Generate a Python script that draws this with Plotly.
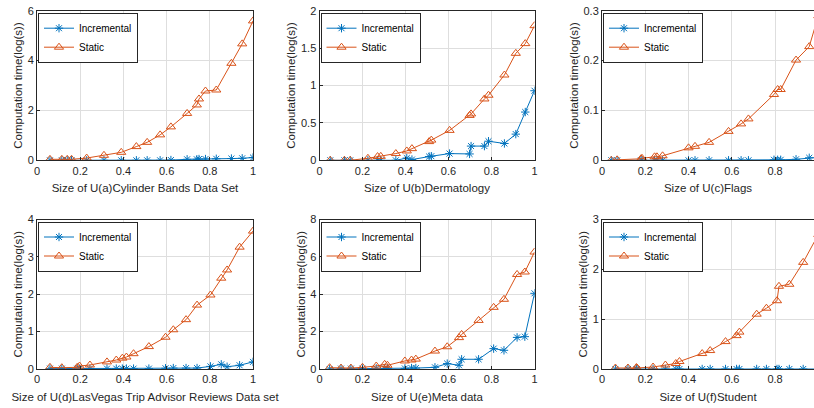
import plotly.graph_objects as go

# ---------------- data ----------------
titles = [
    "Size of U(a)Cylinder Bands Data Set",
    "Size of U(b)Dermatology",
    "Size of U(c)Flags",
    "Size of U(d)LasVegas Trip Advisor Reviews Data set",
    "Size of U(e)Meta data",
    "Size of U(f)Student",
]
y_label = "Computation time(log(s))"

x_a = [0.06, 0.115, 0.14, 0.16, 0.23, 0.31, 0.39, 0.46, 0.51, 0.57, 0.62, 0.695, 0.74, 0.75, 0.78, 0.83, 0.9, 0.95, 1.0]
inc_a = [0.0, 0.0, 0.0, 0.0, 0.0, 0.0, 0.0, 0.0, 0.0, 0.0, 0.01, 0.04, 0.04, 0.05, 0.05, 0.06, 0.07, 0.08, 0.11]
sta_a = [0.04, 0.04, 0.04, 0.04, 0.09, 0.2, 0.32, 0.55, 0.72, 1.02, 1.34, 1.88, 2.22, 2.46, 2.78, 2.82, 3.89, 4.67, 5.59]

x_b = [0.05, 0.116, 0.143, 0.225, 0.27, 0.285, 0.355, 0.406, 0.43, 0.51, 0.52, 0.605, 0.698, 0.705, 0.767, 0.786, 0.86, 0.913, 0.957, 1.0]
inc_b = [0.0, 0.0, 0.0, 0.0, 0.0, 0.0, 0.0, 0.03, 0.01, 0.05, 0.055, 0.09, 0.085, 0.19, 0.19, 0.255, 0.225, 0.35, 0.645, 0.93]
sta_b = [0.0, 0.0, 0.0, 0.027, 0.05, 0.053, 0.09, 0.125, 0.156, 0.25, 0.27, 0.40, 0.60, 0.62, 0.82, 0.87, 1.14, 1.43, 1.56, 1.80]

x_c = [0.043, 0.07, 0.18, 0.185, 0.243, 0.254, 0.28, 0.40, 0.43, 0.495, 0.585, 0.643, 0.677, 0.795, 0.812, 0.826, 0.897, 0.958, 1.0]
inc_c = [0.0, 0.0, 0.0, 0.0, 0.0, 0.0, 0.0, 0.0, 0.0, 0.0, 0.0, 0.0, 0.0, 0.001, 0.001, 0.001, 0.002, 0.005, 0.006]
sta_c = [0.0, 0.001, 0.003, 0.004, 0.007, 0.007, 0.009, 0.025, 0.028, 0.036, 0.058, 0.073, 0.083, 0.132, 0.142, 0.142, 0.201, 0.228, 0.29]

x_d = [0.06, 0.115, 0.186, 0.197, 0.245, 0.324, 0.367, 0.395, 0.414, 0.447, 0.518, 0.595, 0.631, 0.69, 0.741, 0.803, 0.853, 0.88, 0.938, 1.0]
inc_d = [0.01, 0.01, 0.01, 0.01, 0.01, 0.01, 0.01, 0.01, 0.01, 0.01, 0.01, 0.02, 0.025, 0.025, 0.025, 0.07, 0.125, 0.06, 0.1, 0.19]
sta_d = [0.045, 0.035, 0.045, 0.08, 0.107, 0.19, 0.24, 0.29, 0.32, 0.41, 0.60, 0.85, 1.05, 1.32, 1.71, 1.98, 2.43, 2.65, 3.26, 3.69]

x_e = [0.047, 0.1, 0.146, 0.2, 0.264, 0.303, 0.316, 0.397, 0.428, 0.448, 0.537, 0.594, 0.649, 0.661, 0.74, 0.81, 0.858, 0.919, 0.955, 1.0]
inc_e = [0.0, 0.02, 0.02, 0.02, 0.03, 0.03, 0.03, 0.03, 0.05, 0.05, 0.09, 0.29, 0.2, 0.52, 0.52, 1.09, 1.0, 1.69, 1.73, 4.05]
sta_e = [0.07, 0.05, 0.05, 0.09, 0.16, 0.25, 0.2, 0.43, 0.48, 0.53, 0.96, 1.19, 1.68, 1.85, 2.6, 3.3, 3.73, 5.06, 5.19, 6.26]

x_f = [0.062, 0.12, 0.159, 0.162, 0.236, 0.293, 0.341, 0.358, 0.463, 0.5, 0.571, 0.622, 0.635, 0.715, 0.76, 0.809, 0.818, 0.866, 0.93, 1.0]
inc_f = [0.0] * 20
sta_f = [0.02, 0.02, 0.03, 0.02, 0.04, 0.08, 0.11, 0.15, 0.31, 0.37, 0.55, 0.67, 0.74, 1.10, 1.22, 1.37, 1.66, 1.70, 2.14, 2.7]

xs = [x_a, x_b, x_c, x_d, x_e, x_f]
incs = [inc_a, inc_b, inc_c, inc_d, inc_e, inc_f]
stas = [sta_a, sta_b, sta_c, sta_d, sta_e, sta_f]

y_ranges = [[0, 6], [0, 2], [0, 0.3], [0, 4], [0, 8], [0, 3]]
y_dticks = [2, 0.5, 0.1, 1, 2, 1]
x_ranges = [[0, 1], [0, 1], [0, 0.98], [0, 1], [0, 1], [0, 0.98]]

# ---------------- layout geometry ----------------
W, H = 814, 408
col_px = [(37, 253), (319.5, 534.5), (602, 814)]
row_px = [(10.7, 160.3), (219.5, 369)]

BLUE = "#0072BD"
ORANGE = "#D95319"
AX = "#262626"
GRID = "#dedede"
FONT = "Liberation Sans, Arial, sans-serif"

fig = go.Figure()
layout = dict(
    width=W, height=H,
    margin=dict(l=0, r=0, t=0, b=0),
    paper_bgcolor="white", plot_bgcolor="white",
    font=dict(family=FONT, size=11, color=AX),
    showlegend=True,
)

for i in range(6):
    r, c = divmod(i, 3)
    n = i + 1
    xa = "x" if n == 1 else f"x{n}"
    ya = "y" if n == 1 else f"y{n}"
    lg = "legend" if n == 1 else f"legend{n}"
    fig.add_trace(go.Scatter(
        x=xs[i], y=incs[i], mode="lines+markers", name="Incremental",
        xaxis=xa, yaxis=ya, legend=lg, cliponaxis=True,
        line=dict(color=BLUE, width=1),
        marker=dict(symbol="asterisk-open", size=7, color=BLUE,
                    line=dict(color=BLUE, width=1)),
    ))
    fig.add_trace(go.Scatter(
        x=xs[i], y=stas[i], mode="lines+markers", name="Static",
        xaxis=xa, yaxis=ya, legend=lg, cliponaxis=True,
        line=dict(color=ORANGE, width=1),
        marker=dict(symbol="triangle-up-open", size=8, color=ORANGE,
                    line=dict(color=ORANGE, width=1)),
    ))
    x0, x1 = col_px[c]
    yt, yb = row_px[r]
    dom_x = [x0 / W, x1 / W]
    dom_y = [1 - yb / H, 1 - yt / H]
    xkey = "xaxis" if n == 1 else f"xaxis{n}"
    ykey = "yaxis" if n == 1 else f"yaxis{n}"
    layout[xkey] = dict(
        domain=dom_x, range=x_ranges[i], anchor=ya,
        tickmode="array", tickvals=[0, 0.2, 0.4, 0.6, 0.8, 1],
        ticktext=["0", "0.2", "0.4", "0.6", "0.8", "1"],
        ticks="inside", ticklen=3, tickcolor=AX,
        showline=True, linecolor=AX, linewidth=1, mirror=True,
        showgrid=True, gridcolor=GRID, gridwidth=1, zeroline=False,
        tickfont=dict(size=11, color=AX),
        title=dict(text=titles[i], font=dict(size=11.5, color=AX), standoff=8),
        automargin=False,
    )
    layout[ykey] = dict(
        domain=dom_y, range=y_ranges[i], anchor=xa,
        dtick=y_dticks[i], tick0=0,
        ticks="inside", ticklen=3, tickcolor=AX,
        showline=True, linecolor=AX, linewidth=1, mirror=(c != 2),
        showgrid=True, gridcolor=GRID, gridwidth=1, zeroline=False,
        tickfont=dict(size=11, color=AX),
        title=dict(text=y_label, font=dict(size=11.5, color=AX), standoff=2),
        automargin=False,
    )
    layout[lg] = dict(
        x=(x0 + 1) / W, y=1 - (yt + 2) / H,
        xanchor="left", yanchor="top", xref="paper", yref="paper",
        bgcolor="white", bordercolor=AX, borderwidth=1,
        font=dict(size=10, color="#000000"),
        tracegroupgap=0, itemwidth=30,
    )

fig.update_layout(**layout)
fig.write_html(
    "out.html",
    config={"displayModeBar": False},
    post_script="document.body.style.margin='0';document.body.style.overflow='hidden';",
)
